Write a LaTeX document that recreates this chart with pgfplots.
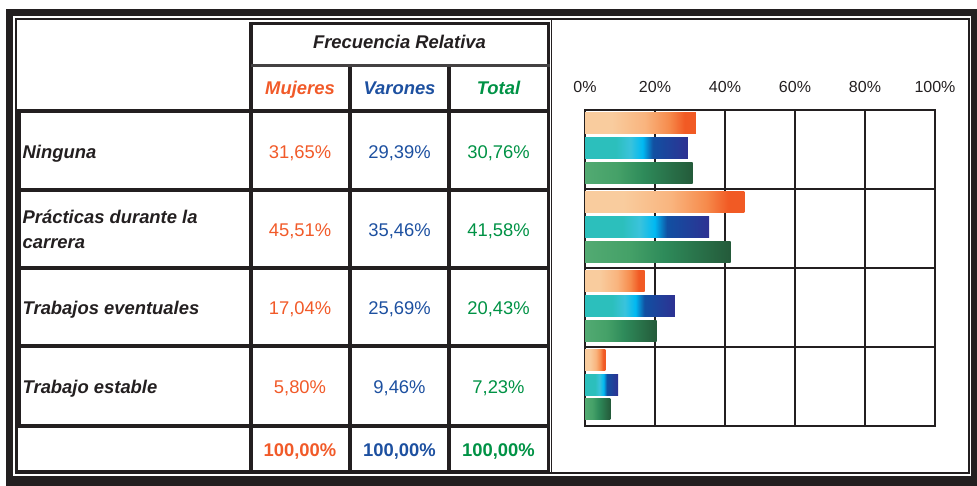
\documentclass[border=0pt]{standalone}
\usepackage{pgfplots}
\pgfplotsset{compat=1.18}
\usepackage{fontspec}
\setmainfont{Liberation Sans}
\definecolor{ink}{HTML}{231F20}
\definecolor{muj}{HTML}{F15A29}
\definecolor{var}{HTML}{1D50A0}
\definecolor{tot}{HTML}{009245}
\definecolor{mA}{HTML}{F9CC9E}
\definecolor{mB}{HTML}{F9B47E}
\definecolor{mC}{HTML}{F68B4C}
\definecolor{mD}{HTML}{F15A24}
\definecolor{vA}{HTML}{2CBFBC}
\definecolor{vB}{HTML}{3AC3DC}
\definecolor{vC}{HTML}{00B9F2}
\definecolor{vD}{HTML}{1150A2}
\definecolor{vE}{HTML}{2E3192}
\definecolor{tA}{HTML}{52AA72}
\definecolor{tB}{HTML}{45A168}
\definecolor{tC}{HTML}{2E8B5A}
\definecolor{tD}{HTML}{245A3A}
\pgfdeclarehorizontalshading{mujsh}{100bp}{color(0bp)=(mA); color(25bp)=(mA); color(37bp)=(mA); color(52bp)=(mB); color(63bp)=(mC); color(70bp)=(mD); color(75bp)=(mD); color(100bp)=(mD)}
\pgfdeclarehorizontalshading{varsh}{100bp}{color(0bp)=(vA); color(25bp)=(vA); color(40bp)=(vA); color(47bp)=(vB); color(53bp)=(vC); color(58bp)=(vD); color(75bp)=(vE); color(100bp)=(vE)}
\pgfdeclarehorizontalshading{totsh}{100bp}{color(0bp)=(tA); color(25bp)=(tA); color(40bp)=(tB); color(52bp)=(tC); color(75bp)=(tD); color(100bp)=(tD)}
\newcommand\fs{\fontsize{18.4}{22}\selectfont}
\pgfplotsset{
  mujbar/.style={xbar, bar width=21pt, bar shift=0pt, draw=none, shade, shading=mujsh},
  varbar/.style={xbar, bar width=21pt, bar shift=0pt, draw=none, shade, shading=varsh},
  totbar/.style={xbar, bar width=21pt, bar shift=0pt, draw=none, shade, shading=totsh},
}
\begin{document}
\begin{tikzpicture}
\useasboundingbox (0pt,0pt) rectangle (977pt,486pt);
\begin{scope}[x=1pt,y=-1pt,yshift=486pt]
% outer frame
\fill[ink] (6,9) rectangle (977,16);
\fill[ink] (6,9) rectangle (13,484);
\fill[ink] (971,9) rectangle (977,486);
\fill[ink] (6,476) rectangle (977,486);
\draw[ink,line width=2pt] (15.5,19) rectangle (969,473);
\draw[ink,line width=1.5pt] (551.5,19) -- (551.5,473);
% table grid
\begin{scope}[ink,line width=3.5pt]
\draw (251,23.5) -- (550,23.5);
\foreach \yy in {111,190,268,346,426,472} \draw (17,\yy) -- (550,\yy);
\draw (251,22) -- (251,473);
\draw (350,64) -- (350,473);
\draw (449,64) -- (449,473);
\draw (548.5,22) -- (548.5,473);
\draw (19,111) -- (19,426);
\end{scope}
\draw[ink!85,line width=3pt] (251,66) -- (550,66);
\draw[ink,line width=1.5pt] (17,426) -- (17,473);
% header
\node[anchor=base,inner sep=0,font=\fs\bfseries\itshape,text=ink] at (399.5,49) {Frecuencia Relativa};
\node[anchor=base,inner sep=0,font=\fs\bfseries\itshape,text=muj] at (300,95) {Mujeres};
\node[anchor=base,inner sep=0,font=\fs\bfseries\itshape,text=var] at (399.5,95) {Varones};
\node[anchor=base,inner sep=0,font=\fs\bfseries\itshape,text=tot] at (498.5,95) {Total};
% row labels
\begin{scope}[every node/.style={anchor=base west,inner sep=0,font=\fs\bfseries\itshape,text=ink}]
\node at (22.5,158.5) {Ninguna};
\node at (22.5,223.3) {Prácticas durante la};
\node at (22.5,248.3) {carrera};
\node at (22.5,314.5) {Trabajos eventuales};
\node at (22.5,393.5) {Trabajo estable};
\end{scope}
% values
\begin{scope}[every node/.style={anchor=base,inner sep=0,font=\fs}]
\node[text=muj] at (300,158.5) {31,65\%};
\node[text=var] at (399.5,158.5) {29,39\%};
\node[text=tot] at (498.5,158.5) {30,76\%};
\node[text=muj] at (300,236.5) {45,51\%};
\node[text=var] at (399.5,236.5) {35,46\%};
\node[text=tot] at (498.5,236.5) {41,58\%};
\node[text=muj] at (300,314.5) {17,04\%};
\node[text=var] at (399.5,314.5) {25,69\%};
\node[text=tot] at (498.5,314.5) {20,43\%};
\node[text=muj] at (300,393.5) {5,80\%};
\node[text=var] at (399.5,393.5) {9,46\%};
\node[text=tot] at (498.5,393.5) {7,23\%};
\node[text=muj,font=\fs\bfseries] at (300,456.5) {100,00\%};
\node[text=var,font=\fs\bfseries] at (399.5,456.5) {100,00\%};
\node[text=tot,font=\fs\bfseries] at (498.5,456.5) {100,00\%};
\end{scope}
\end{scope}
\begin{axis}[
  at={(585pt,60pt)}, anchor=south west,
  scale only axis, width=350pt, height=316pt,
  xmin=0, xmax=100, ymin=-0.5, ymax=3.5, y dir=reverse,
  xtick={0,20,40,60,80,100},
  xticklabels={0\%,20\%,40\%,60\%,80\%,100\%},
  xticklabel pos=upper,
  xticklabel style={font=\fontsize{16}{19}\selectfont, text=ink, anchor=base, yshift=17pt},
  ytick={0.5,1.5,2.5}, yticklabels={},
  grid=major, major grid style={ink, line width=1.3pt},
  major tick length=0pt,
  axis line style={ink, line width=1.6pt},
]
% Mujeres
\addplot[mujbar] coordinates {(31.65,-0.33)};
\addplot[mujbar] coordinates {(45.51,0.67)};
\addplot[mujbar] coordinates {(17.04,1.67)};
\addplot[mujbar] coordinates {(5.80,2.67)};
% Varones
\addplot[varbar] coordinates {(29.39,-0.015)};
\addplot[varbar] coordinates {(35.46,0.985)};
\addplot[varbar] coordinates {(25.69,1.985)};
\addplot[varbar] coordinates {(9.46,2.985)};
% Total
\addplot[totbar] coordinates {(30.76,0.30)};
\addplot[totbar] coordinates {(41.58,1.30)};
\addplot[totbar] coordinates {(20.43,2.30)};
\addplot[totbar] coordinates {(7.23,3.29)};
\end{axis}
\end{tikzpicture}
\end{document}
